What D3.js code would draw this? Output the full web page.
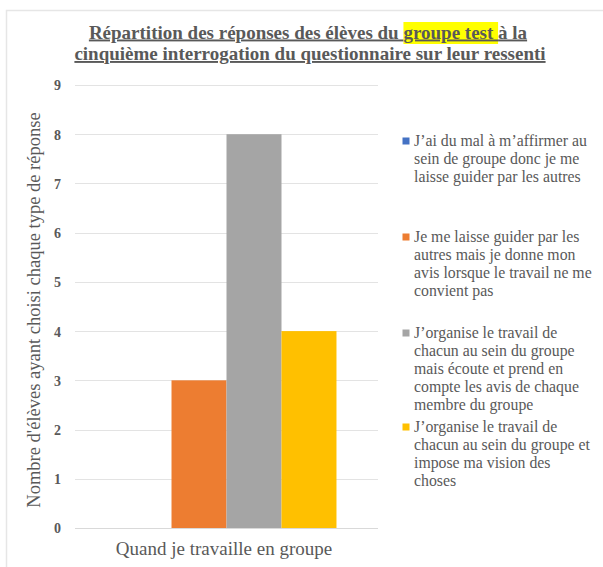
<!DOCTYPE html>
<html><head><meta charset="utf-8">
<script src="https://cdn.jsdelivr.net/npm/d3@7"></script>
<style>body{margin:0;background:#fff;}svg{display:block;}</style>
</head><body>
<script>
const categories = ["Quand je travaille en groupe"];
const seriesNames = [
  ["J\u2019ai du mal à m\u2019affirmer au","sein de groupe donc je me","laisse guider par les autres"],
  ["Je me laisse guider par les","autres mais je donne mon","avis lorsque le travail ne me","convient pas"],
  ["J\u2019organise le travail de","chacun au sein du groupe","mais écoute et prend en","compte les avis de chaque","membre du groupe"],
  ["J\u2019organise le travail de","chacun au sein du groupe et","impose ma vision des","choses"]
];
const values = [0, 3, 8, 4];
const colors = ["#4472c4", "#ed7d31", "#a5a5a5", "#ffc000"];
const yTicks = [0,1,2,3,4,5,6,7,8,9];
const yTitle = "Nombre d'élèves ayant choisi chaque type de réponse";

const W = 603, H = 567;
const FF = '"Liberation Serif"';
const svg = d3.select("body").append("svg").attr("width", W).attr("height", H);
const txt = "#595959";

// border
svg.append("path").attr("d","M6.5,567 V10.5 H603").attr("fill","none").attr("stroke","#e6e6e6").attr("stroke-width",1.5);

// title
const hlG = svg.append("g");
const t = svg.append("text").style("font-family",FF).attr("font-weight","bold").attr("font-size",19)
  .attr("fill",txt).attr("text-anchor","middle").attr("text-decoration","underline");
const l1 = t.append("tspan").attr("x",308).attr("y",38.5);
l1.append("tspan").text("Répartition des réponses des élèves du ");
l1.append("tspan").text("groupe test ");
l1.append("tspan").text("à la");
t.append("tspan").attr("x",310).attr("y",60).text("cinquième interrogation du questionnaire sur leur ressenti");

const x0 = d3.scaleBand().domain(categories).range([75, 378]);
const y = d3.scaleLinear().domain([0, 9]).range([528, 85]);
const x1 = d3.scaleBand().domain(d3.range(values.length)).range([0, x0.bandwidth()]).paddingOuter(0.755).paddingInner(0);

// gridlines
svg.append("g").selectAll("line").data(yTicks).join("line")
  .attr("x1",75).attr("x2",378).attr("y1",d=>Math.round(y(d))+0.5).attr("y2",d=>Math.round(y(d))+0.5)
  .attr("stroke",d=> d===0 ? "#d9d9d9" : "#e3e3e3").attr("stroke-width",1.2);

// y tick labels
const yAxis = d3.axisLeft(y).tickValues(yTicks).tickSize(0).tickPadding(0);
const ga = svg.append("g").attr("transform","translate(61,0)").call(yAxis);
ga.select(".domain").remove();
ga.selectAll("text").style("font-family",FF).attr("font-weight","bold").attr("font-size",14).attr("fill",txt).attr("dy","0.35em");

// bars
svg.append("g").selectAll("rect").data(values).join("rect")
  .attr("x",(d,i)=>x0(categories[0]) + x1(i)).attr("width",x1.bandwidth())
  .attr("y",d=>y(d)).attr("height",d=>y(0)-y(d)).attr("fill",(d,i)=>colors[i]);

// x label
svg.append("text").attr("x",224).attr("y",555).attr("text-anchor","middle").style("font-family",FF)
  .attr("font-size",19).attr("fill",txt).text(categories[0]);

// y title
svg.append("text").attr("transform","translate(40,310) rotate(-90)").attr("text-anchor","middle").style("font-family",FF)
  .attr("font-size",18.5).attr("fill",txt).text(yTitle);

// legend
const legY = [145.5, 241.5, 337.5, 431.5];
const lineH = 18.1;
const lg = svg.append("g");
seriesNames.forEach((lines,i)=>{
  lg.append("rect").attr("x",402.5).attr("y",legY[i]-8).attr("width",7).attr("height",7).attr("fill",colors[i]);
  const tx = lg.append("text").style("font-family",FF).attr("font-size",15.8).attr("fill",txt);
  lines.forEach((s,j)=>tx.append("tspan").attr("x",414).attr("y",legY[i]+j*lineH).text(s));
});

// highlight behind "groupe test "
(function(){
  const startIdx = "Répartition des réponses des élèves du ".length;
  const endIdx = startIdx + "groupe test ".length - 1;
  const tn = t.node();
  const s = tn.getStartPositionOfChar(startIdx);
  const e = tn.getEndPositionOfChar(endIdx);
  hlG.append("rect").attr("x", s.x).attr("y", 22).attr("width", e.x - s.x).attr("height", 22).attr("fill", "#ffff00");
})();
</script>
</body></html>
